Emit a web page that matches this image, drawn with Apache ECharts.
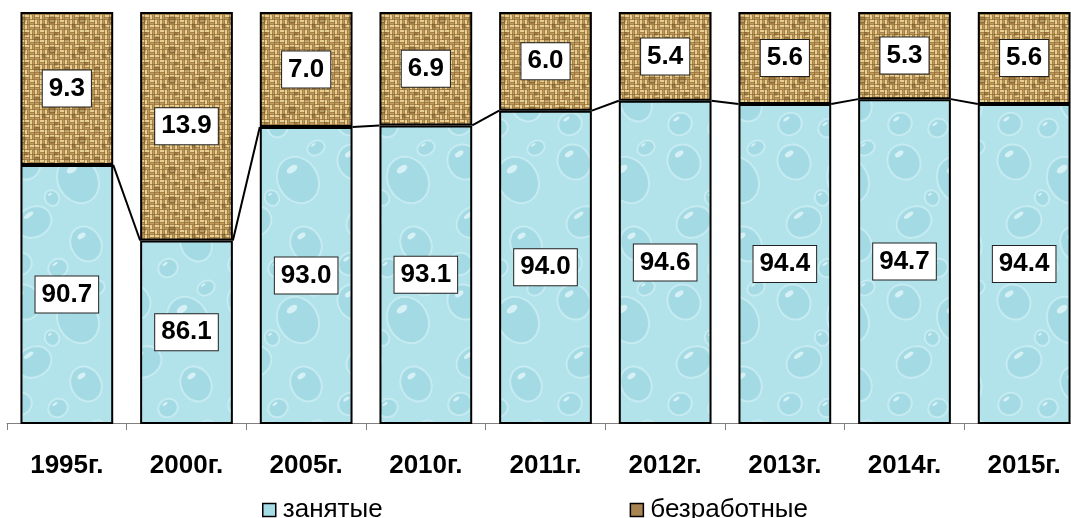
<!DOCTYPE html>
<html><head><meta charset="utf-8">
<script src="https://cdn.jsdelivr.net/npm/echarts@6/dist/echarts.min.js"></script>
<style>html,body{margin:0;padding:0;background:#fff}#chart{width:1071px;height:518px}</style>
</head><body><div id="chart"></div>
<script>
const categories = ['1995г.','2000г.','2005г.','2010г.','2011г.','2012г.','2013г.','2014г.','2015г.'];
const employed = [90.7, 86.1, 93.0, 93.1, 94.0, 94.6, 94.4, 94.7, 94.4];
const unemployed = [9.3, 13.9, 7.0, 6.9, 6.0, 5.4, 5.6, 5.3, 5.6];
const seriesNames = ['занятые', 'безработные'];

const BAR_FRAC = 0.775;

function burlap() {
  const S = 30;
  const c = document.createElement('canvas'); c.width = S; c.height = S;
  const g = c.getContext('2d');
  g.fillStyle = '#8c6835'; g.fillRect(0, 0, S, S);
  const cell = 5;
  const n = S / cell;
  for (let by = 0; by < n; by++) for (let bx = 0; bx < n; bx++) {
    const x0 = bx * cell, y0 = by * cell;
    const horiz = ((bx + by) % 2 === 0) !== ((bx * 3 + by) % 5 === 0);
    for (let k = 0; k < 2; k++) {
      g.fillStyle = k === 0 ? '#e8d093' : '#bf9b5d';
      if (horiz) g.fillRect(x0, y0 + k * 2.5, cell - 0.7, 2);
      else g.fillRect(x0 + k * 2.5, y0, 2, cell - 0.7);
    }
  }
  const spots = [[7, 9, 3], [22, 20, 4], [14, 26, 2.5], [26, 4, 2]];
  spots.forEach(([x, y, r]) => {
    g.beginPath(); g.arc(x, y, r, 0, Math.PI * 2);
    g.fillStyle = 'rgba(100,68,25,0.35)'; g.fill();
  });
  return c;
}
function water() {
  const W = 110, H = 140;
  const c = document.createElement('canvas'); c.width = W; c.height = H;
  const g = c.getContext('2d');
  g.fillStyle = '#b2e2ea'; g.fillRect(0, 0, W, H);
  const drops = [[24,22,16,18],[78,40,20,24],[34,82,18,15],[86,104,15,18],[20,124,12,11],[58,128,10,9],[96,8,9,7],[52,58,7,8]];
  drops.forEach(([x, y, rx, ry]) => {
    for (const [dx, dy] of [[0,0],[W,0],[-W,0],[0,H],[0,-H]]) {
      const cx = x + dx, cy = y + dy;
      g.beginPath(); g.ellipse(cx, cy, rx, ry, -0.5, 0, Math.PI * 2);
      g.fillStyle = 'rgba(130,196,210,0.28)'; g.fill();
      g.lineWidth = 2; g.strokeStyle = 'rgba(215,244,248,0.6)'; g.stroke();
      g.beginPath(); g.ellipse(cx - rx * 0.3, cy - ry * 0.45, rx * 0.3, ry * 0.14, -0.6, 0, Math.PI * 2);
      g.fillStyle = 'rgba(235,251,253,0.7)'; g.fill();
    }
  });
  return c;
}

const FONT = 'Liberation Sans';
const labelStyle = {
  show: true, position: 'inside',
  formatter: p => Number(p.value).toFixed(1),
  fontFamily: FONT, fontWeight: 'bold', fontSize: 26, color: '#000',
  backgroundColor: '#fff', borderColor: '#222', borderWidth: 1,
  padding: [6, 6, 4, 6], lineHeight: 26
};

const chart = echarts.init(document.getElementById('chart'), null, {renderer: 'canvas'});
chart.setOption({
  animation: false,
  grid: {left: 7, width: 1077, top: 12, bottom: 95, containLabel: false, outerBoundsMode: 'none'},
  legend: {
    data: [
      {name: seriesNames[0], itemStyle: {color: '#a6dce6', borderColor: '#000', borderWidth: 1.5}},
      {name: seriesNames[1], itemStyle: {color: '#a88452', borderColor: '#000', borderWidth: 1.5}}
    ],
    left: 262, top: 497, padding: 0, itemGap: 247, itemWidth: 13, itemHeight: 13,
    icon: 'rect',
    textStyle: {fontFamily: FONT, fontSize: 26, color: '#000', padding: [0, 0, 0, 2]}
  },
  xAxis: {
    type: 'category', data: categories,
    axisLine: {lineStyle: {color: '#808080', width: 1}},
    axisTick: {show: true, length: 7, lineStyle: {color: '#808080'}},
    axisLabel: {fontFamily: FONT, fontWeight: 'bold', fontSize: 26, color: '#000', margin: 30}
  },
  yAxis: {type: 'value', min: 75, max: 100, show: false},
  series: [
    {
      name: seriesNames[0], type: 'bar', stack: 'total', data: employed, barWidth: (BAR_FRAC * 100) + '%',
      itemStyle: {color: {image: water(), repeat: 'repeat'}, borderColor: '#000', borderWidth: 2},
      label: labelStyle, z: 2
    },
    {
      name: seriesNames[1], type: 'bar', stack: 'total', data: unemployed, barWidth: (BAR_FRAC * 100) + '%',
      itemStyle: {color: {image: burlap(), repeat: 'repeat'}, borderColor: '#000', borderWidth: 2},
      label: labelStyle, z: 2
    },
    {
      name: 'series-lines', type: 'custom', silent: true, z: 3,
      data: employed.map((v, i) => [i, v]),
      encode: {x: 0, y: 1},
      renderItem: function (params, api) {
        const i = params.dataIndex;
        if (i >= employed.length - 1) return null;
        const a = api.coord([i, api.value(1)]);
        const b = api.coord([i + 1, employed[i + 1]]);
        const h = api.size([1, 0])[0] * BAR_FRAC / 2;
        return {type: 'line', shape: {x1: a[0] + h, y1: a[1], x2: b[0] - h, y2: b[1]},
          style: {stroke: '#000', lineWidth: 2}};
      }
    }
  ]
});
</script></body></html>
